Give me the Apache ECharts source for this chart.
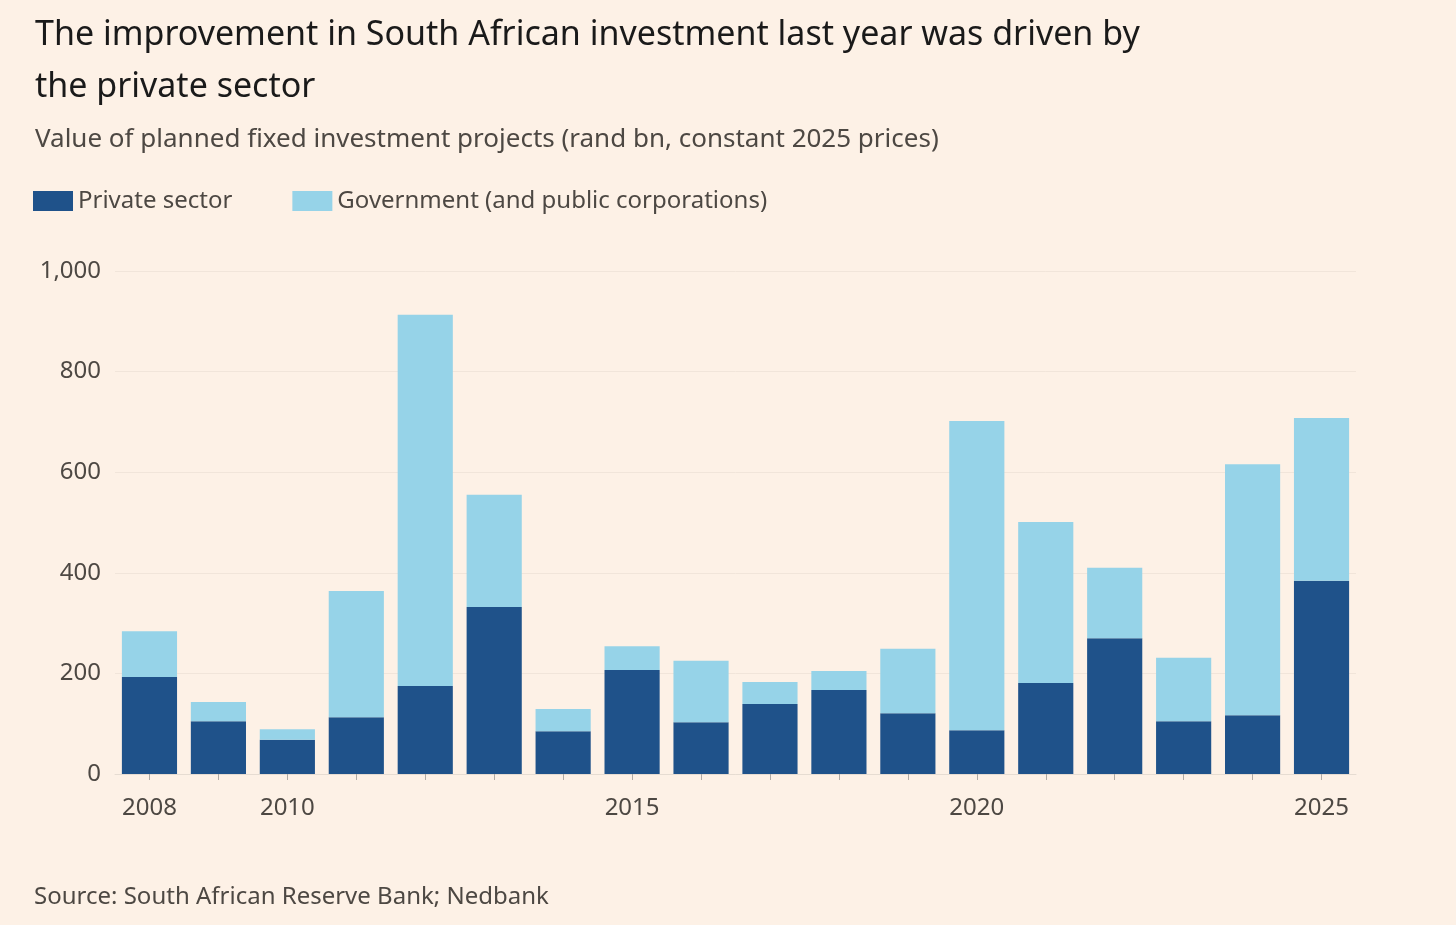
<!DOCTYPE html>
<html><head><meta charset="utf-8">
<script src="https://cdn.jsdelivr.net/npm/echarts@6/dist/echarts.min.js"></script>
<style>html,body{margin:0;background:#fdf1e6;}#c{width:1456px;height:925px;}</style>
</head><body><div id="c"></div>
<script>
const years = ['2008','2009','2010','2011','2012','2013','2014','2015','2016','2017','2018','2019','2020','2021','2022','2023','2024','2025'];
const privateSector = [193,105,68,113,175,332,85,207,103,139,167,121,87,181,270,105,117,384];
const government = [91,38,21,251,738,223,44,47,122,44,38,128,615,320,140,126,499,324];
const shownLabels = ['2008','2010','2015','2020','2025'];
const font = 'Noto Sans';
const chart = echarts.init(document.getElementById('c'));
chart.setOption({
  backgroundColor:'#fdf1e6',
  textStyle:{fontFamily:font},
  title:[
    {text:'The improvement in South African investment last year was driven by\nthe private sector',left:30,top:4,textStyle:{fontFamily:font,fontSize:34,fontWeight:'normal',color:'#1a1a1a',lineHeight:52}},
    {text:'Value of planned fixed investment projects (rand bn, constant 2025 prices)',left:30,top:122,textStyle:{fontFamily:font,fontSize:26,fontWeight:'normal',color:'#4d4843'}},
    {text:'Source: South African Reserve Bank; Nedbank',left:29,top:880,textStyle:{fontFamily:font,fontSize:24,fontWeight:'normal',color:'#4d4843'}}
  ],
  legend:{left:28,top:184,itemWidth:40,itemHeight:20,itemGap:60,icon:'rect',textStyle:{fontFamily:font,fontSize:24,color:'#4d4843'},
    data:['Private sector','Government (and public corporations)']},
  grid:{left:115,right:100,top:271,bottom:151},
  xAxis:{type:'category',data:years,
    axisLine:{lineStyle:{color:'#e6dcd2'}},
    axisTick:{show:true,alignWithLabel:true,interval:0,length:6,lineStyle:{color:'#b0aaa4'}},
    axisLabel:{interval:0,formatter:v=>shownLabels.includes(v)?v:'',fontSize:24,color:'#4d4843',margin:22}},
  yAxis:{type:'value',min:0,max:1000,interval:200,
    axisLabel:{fontSize:24,color:'#4d4843',margin:14,align:'right'},
    splitLine:{lineStyle:{color:'#f1e5da'}}},
  series:[
    {name:'Private sector',type:'bar',stack:'t',data:privateSector,barWidth:'80%',itemStyle:{color:'#1f528a'}},
    {name:'Government (and public corporations)',type:'bar',stack:'t',data:government,itemStyle:{color:'#96d3e8'}}
  ]
});
</script></body></html>
